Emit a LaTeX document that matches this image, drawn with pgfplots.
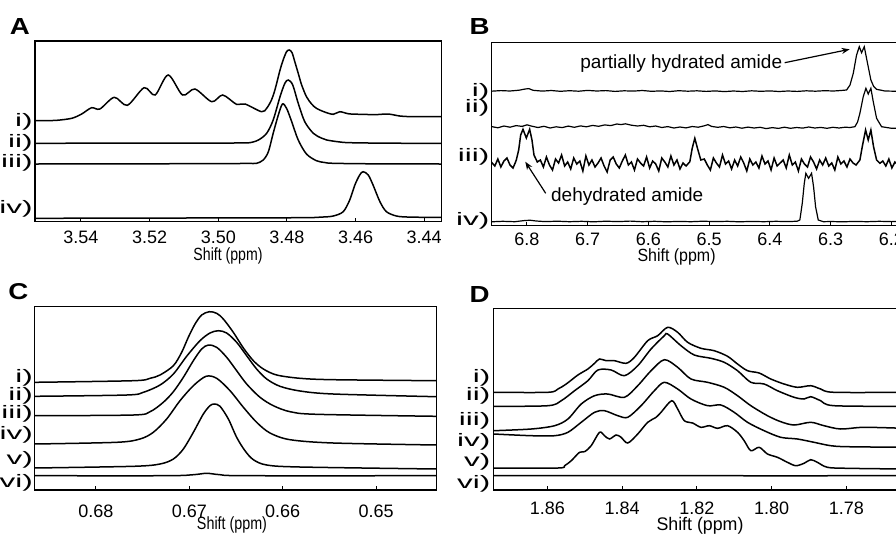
\documentclass[border=0pt]{standalone}
\usepackage{fontspec}
\setmainfont{Liberation Sans}
\usepackage{graphicx}
\usepackage{pgfplots}
\pgfplotsset{compat=1.18}
\usetikzlibrary{arrows.meta}

% trace labels: glyphs widened as in the original figure
\newcommand{\tl}[1]{\scalebox{1.75}[1]{#1}}

\pgfplotsset{
  nmr/.style={
    scale only axis, anchor=south west,
    x dir=reverse, y dir=reverse,
    axis line style={line width=0.6pt},
    ytick=\empty, xtick pos=left, xticklabel pos=left,
    tick align=inside, major tick length=2pt,
    tick style={black, line width=0.5pt},
    xticklabel style={font=\fontsize{9}{10}\selectfont},
    clip mode=individual,
  },
  trace/.style={black, line width=0.75pt, no markers, smooth},
  noisy/.style={black, line width=0.6pt, no markers, sharp plot},
}

\begin{document}
\begin{tikzpicture}[lab/.style={anchor=east, inner sep=0pt, font=\fontsize{9}{10}\selectfont}]

% ---------- A
\begin{axis}[nmr, at={(17.5pt,158.25pt)}, width=203.35pt, height=90.25pt,
  xmin=3.4349, xmax=3.5534, ymin=41, ymax=221.5,
  xtick={3.54,3.52,3.50,3.48,3.46,3.44},
  xticklabels={3.54,3.52,3.50,3.48,3.46,3.44},
  xticklabel style={yshift=-1.25pt}]
\addplot[trace] coordinates {(3.5534,120.7)(3.5500,120.6)(3.5470,120.3)(3.5427,118.3)(3.5398,114)(3.5369,107.7)(3.5345,109)(3.5303,97.3)(3.5265,105.3)(3.5216,87.7)(3.5184,95)(3.5146,75)(3.5104,95)(3.5068,89)(3.5019,101.7)(3.4987,95)(3.4947,104.3)(3.4922,104)(3.4874,111.7)(3.4859,108.3)(3.4845,100)(3.4835,90)(3.4820,70)(3.4811,60)(3.4801,51.7)(3.4793,50)(3.4785,52.7)(3.4777,61.7)(3.4767,73.3)(3.4757,85)(3.4743,96.7)(3.4728,104)(3.4714,108.3)(3.4690,112)(3.4665,114.3)(3.4646,111.7)(3.4620,113.8)(3.4587,114.3)(3.4540,114.6)(3.4505,114)(3.4471,116)(3.4432,116.7)(3.4349,116.7)};
\addplot[trace] coordinates {(3.5534,143.3)(3.5200,143.1)(3.4960,143)(3.4930,142.9)(3.4908,142.7)(3.4883,140)(3.4859,133.3)(3.4840,120)(3.4820,96.7)(3.4806,83.3)(3.4796,80)(3.4783,85)(3.4767,103.3)(3.4748,121.7)(3.4723,133.3)(3.4700,138)(3.4684,140)(3.4650,141.8)(3.4616,142.7)(3.4500,143.2)(3.4349,143.3)};
\addplot[trace] coordinates {(3.5534,164)(3.5200,163.8)(3.4940,163.5)(3.4910,163.4)(3.4888,163.3)(3.4869,160)(3.4854,151.7)(3.4840,133.3)(3.4825,115)(3.4813,104)(3.4801,108.3)(3.4786,121.7)(3.4767,140)(3.4743,154)(3.4714,160.7)(3.4690,162.5)(3.4665,163.3)(3.4550,163.8)(3.4349,164)};
\addplot[trace] coordinates {(3.5534,218.3)(3.5100,218)(3.4762,217.7)(3.4700,217.1)(3.4665,216)(3.4636,211.7)(3.4617,200)(3.4602,185)(3.4588,175)(3.4578,171.7)(3.4563,175)(3.4549,185)(3.4529,201.7)(3.4510,211.7)(3.4481,216)(3.4450,217)(3.4400,217.3)(3.4349,217.3)};
\end{axis}

% ---------- B
\begin{axis}[nmr, at={(245.65pt,156.25pt)}, width=205pt, height=91.4pt,
  xmin=6.1835, xmax=6.8588, ymin=42.7, ymax=225.5,
  xtick={6.8,6.7,6.6,6.5,6.4,6.3,6.2},
  xticklabels={6.8,6.7,6.6,6.5,6.4,6.3,6.2}]
\addplot[noisy] coordinates {(6.8588,91.2)(6.843,90.6)(6.828,91.0)(6.813,90.2)(6.803,89.0)(6.797,88.6)(6.790,90.3)(6.775,91.1)(6.760,90.5)(6.745,91.3)(6.730,90.7)(6.715,91.2)(6.700,90.4)(6.685,91.0)(6.670,90.6)(6.655,91.4)(6.640,90.8)(6.625,91.1)(6.610,90.5)(6.595,91.3)(6.580,90.9)(6.565,91.5)(6.550,90.7)(6.535,91.2)(6.520,90.8)(6.505,91.4)(6.490,90.9)(6.475,91.6)(6.460,91.0)(6.445,91.5)(6.430,90.8)(6.415,91.3)(6.400,90.9)(6.385,91.5)(6.370,91.0)(6.355,91.4)(6.340,90.8)(6.325,91.2)(6.310,90.7)(6.295,91.0)(6.283,90.5)(6.2736,90)(6.2680,85)(6.2626,73.3)(6.2572,55)(6.2527,46.7)(6.2489,52.7)(6.2445,46.7)(6.2402,60)(6.2336,80)(6.2290,86.5)(6.2242,89.3)(6.2105,91)(6.195,91.2)(6.1835,91)};
\addplot[noisy] coordinates {(6.8588,126.5)(6.848,127.8)(6.838,126.0)(6.828,127.2)(6.818,125.6)(6.808,126.4)(6.800,124.8)(6.792,126.2)(6.782,127.5)(6.772,126.3)(6.762,128.0)(6.752,126.8)(6.742,127.6)(6.732,126.1)(6.722,127.3)(6.712,125.9)(6.702,126.8)(6.692,125.4)(6.682,126.3)(6.672,124.9)(6.662,125.6)(6.652,124.0)(6.645,124.6)(6.638,123.8)(6.628,125.2)(6.618,126.0)(6.608,125.3)(6.598,126.8)(6.588,126.0)(6.578,127.5)(6.568,126.6)(6.558,128.0)(6.548,127.0)(6.538,127.9)(6.528,126.5)(6.518,127.2)(6.508,125.8)(6.502,124.6)(6.496,126.4)(6.486,127.3)(6.476,126.5)(6.466,127.8)(6.456,127.0)(6.446,128.2)(6.436,127.1)(6.426,128.0)(6.416,127.3)(6.406,128.6)(6.396,127.6)(6.386,128.4)(6.376,127.2)(6.366,128.3)(6.356,127.5)(6.346,128.1)(6.336,127.0)(6.326,128.0)(6.316,127.4)(6.306,128.3)(6.296,127.3)(6.286,128.0)(6.276,127.2)(6.268,127.5)(6.260,126.7)(6.2555,122)(6.2517,113.3)(6.2462,96.7)(6.2418,88.3)(6.2380,94)(6.2336,88.3)(6.2297,101.7)(6.2242,118.3)(6.2160,126.7)(6.1995,128.3)(6.1835,128)};
\addplot[noisy, line width=0.75pt] coordinates {(6.8588,162)(6.853,166)(6.848,159)(6.843,167)(6.838,161)(6.833,158)(6.828,165)(6.823,168)(6.8195,163)
(6.8176,160)(6.8137,150)(6.8104,135)(6.8066,129.3)(6.8011,138)(6.7956,129.3)(6.7918,140)(6.7885,155)(6.783,162)
(6.778,160)(6.773,167)(6.768,157)(6.763,165)(6.758,170)(6.753,159)(6.748,163)(6.743,155)(6.738,166)(6.733,162)(6.728,169)(6.723,158)(6.718,164)(6.713,161)(6.708,171)(6.703,156)(6.698,165)(6.693,160)(6.688,167)(6.683,163)(6.678,158)(6.673,166)(6.668,172)(6.663,160)(6.658,157)(6.653,164)(6.648,168)(6.643,161)(6.638,155)(6.633,165)(6.628,162)(6.623,170)(6.618,159)(6.613,163)(6.608,166)(6.603,157)(6.598,168)(6.593,161)(6.588,164)(6.583,171)(6.578,158)(6.573,162)(6.568,167)(6.563,156)(6.558,165)(6.553,160)(6.548,169)(6.543,163)(6.538,166)
(6.5318,161.7)(6.5279,148.3)(6.5236,138.3)(6.5192,148.3)(6.5137,160)
(6.508,159)(6.503,165)(6.498,170)(6.493,158)(6.488,163)(6.483,167)(6.478,155)(6.473,164)(6.468,161)(6.463,169)(6.458,160)(6.453,166)(6.448,157)(6.443,163)(6.438,171)(6.433,159)(6.428,165)(6.423,162)(6.418,168)(6.413,156)(6.408,164)(6.403,161)(6.398,170)(6.393,158)(6.388,166)(6.383,163)(6.378,160)(6.373,168)(6.368,155)(6.363,165)(6.358,162)(6.353,171)(6.348,159)(6.343,164)(6.338,167)(6.333,157)(6.328,162)(6.323,169)(6.318,160)(6.313,165)(6.308,158)(6.303,166)(6.298,163)(6.293,170)(6.288,157)(6.283,164)(6.278,161)(6.273,167)(6.268,159)(6.263,163)(6.258,165)
(6.2517,160)(6.2478,146.7)(6.2423,130)(6.238,140)(6.2336,130)(6.2292,146.7)(6.2242,160)(6.2188,163.3)
(6.214,161)(6.209,166)(6.204,159)(6.199,168)(6.194,162)(6.189,165)(6.1835,163)};
\addplot[noisy] coordinates {(6.8588,221.8)(6.84,221.3)(6.82,221.7)(6.805,220.6)(6.795,220.2)(6.785,221.0)(6.77,221.6)(6.75,221.2)(6.73,221.7)(6.71,221.3)(6.69,221.8)(6.67,221.2)(6.65,221.6)(6.63,221.1)(6.61,221.7)(6.59,221.3)(6.57,221.8)(6.55,221.4)(6.53,221.7)(6.51,221.2)(6.49,221.6)(6.47,221.3)(6.45,221.8)(6.43,221.4)(6.41,221.7)(6.39,221.3)(6.37,221.6)(6.355,221.2)(6.3506,220)(6.3466,203.3)(6.3433,183.3)(6.3407,173.3)(6.3362,178.3)(6.3313,173.3)(6.328,186.7)(6.3247,206.7)(6.3203,220)(6.312,221.7)(6.30,221.5)(6.28,221.8)(6.26,221.4)(6.24,221.7)(6.22,221.3)(6.20,221.6)(6.1835,221.5)};
\node[font=\fontsize{9.5}{11}\selectfont] at (axis cs:6.5459,64) {partially hydrated amide};
\draw[-{Stealth[length=4pt,width=3pt]}, line width=0.6pt] (axis cs:6.3756,62.7) -- (axis cs:6.2686,49.3);
\node[font=\fontsize{9.5}{11}\selectfont] at (axis cs:6.635,196.7) {dehydrated amide};
\draw[-{Stealth[length=4pt,width=3pt]}, line width=0.6pt] (axis cs:6.7692,193.3) -- (axis cs:6.8028,161.7);
\end{axis}

% ---------- C
\begin{axis}[nmr, at={(17.15pt,24pt)}, width=201.2pt, height=91.65pt,
  xmin=0.6435, xmax=0.68661, ymin=306.7, ymax=490,
  xtick={0.68,0.67,0.66,0.65},
  xticklabels={0.68,0.67,0.66,0.65},
  xticklabel style={yshift=-4pt}]
\addplot[trace] coordinates {(0.68661,382.3)(0.676,380.7)(0.67421,378.3)(0.67314,375)(0.67171,365.7)(0.67082,352.3)(0.67011,337.3)(0.66939,324)(0.66868,315)(0.66786,311.7)(0.66707,313.3)(0.66636,319)(0.66529,332.3)(0.66421,348)(0.66314,360.7)(0.66207,369)(0.66064,375)(0.65814,378.3)(0.65457,379.7)(0.6435,380.7)};
\addplot[trace] coordinates {(0.68661,396.3)(0.67671,395)(0.67493,392.3)(0.67314,385)(0.67171,374)(0.67029,356.3)(0.66886,340.7)(0.66779,333)(0.66689,330.7)(0.666,333)(0.66493,342.3)(0.66386,355.7)(0.66279,369)(0.66171,379)(0.66029,386.3)(0.65814,391)(0.65457,394)(0.6435,396.7)};
\addplot[trace] coordinates {(0.68661,415.7)(0.676,415)(0.67421,411.7)(0.67279,402.3)(0.67171,391.7)(0.67064,377.3)(0.66957,360.7)(0.66868,349)(0.66796,345)(0.66707,347.3)(0.666,357.3)(0.66493,370.7)(0.66386,384)(0.66243,397.3)(0.661,405.7)(0.65921,411.7)(0.65636,414.3)(0.6435,416.3)};
\addplot[trace] coordinates {(0.68661,444)(0.67779,442.3)(0.67529,439)(0.67386,432.3)(0.67243,419)(0.671,400.7)(0.66957,385.7)(0.66821,376.3)(0.66707,378.3)(0.66564,390.7)(0.66421,407.3)(0.66279,422.3)(0.66136,433)(0.65921,439.7)(0.65457,443)(0.6435,445)};
\addplot[trace] coordinates {(0.68661,468)(0.676,466.3)(0.67314,464)(0.67171,459)(0.67064,449)(0.66957,432.3)(0.6685,414)(0.66779,405.7)(0.66732,404)(0.66671,406.3)(0.66582,419)(0.66493,437.3)(0.66404,450.7)(0.66314,459.7)(0.66171,465)(0.65814,467)(0.6435,469)};
\addplot[trace] coordinates {(0.68661,475.7)(0.67243,475.7)(0.66957,474.7)(0.66814,473.3)(0.66671,474.7)(0.66386,475.7)(0.6435,475.7)};
\end{axis}

% ---------- D
\begin{axis}[nmr, at={(246.85pt,24pt)}, width=205pt, height=90.85pt,
  xmin=1.76464, xmax=1.87434, ymin=308.3, ymax=490,
  xtick={1.86,1.84,1.82,1.80,1.78},
  xticklabels={1.86,1.84,1.82,1.80,1.78},
  xticklabel style={yshift=-2.3pt}]
\addplot[trace] coordinates {(1.87434,392.3)(1.85982,392.3)(1.85715,389)(1.85493,384)(1.85181,375)(1.84914,369)(1.84736,363.3)(1.84603,359)(1.84425,360.7)(1.84203,360.7)(1.83891,363.3)(1.83669,357.3)(1.83313,340.7)(1.83046,335.7)(1.82779,327.3)(1.82512,332.3)(1.82245,342.3)(1.81889,348.3)(1.81533,350.7)(1.81177,356.3)(1.8091,364)(1.80643,370.7)(1.80331,373)(1.8002,379)(1.79664,384)(1.79308,387.3)(1.78952,385.7)(1.78685,389)(1.78329,392.3)(1.76464,392.3)};
\addplot[trace] coordinates {(1.87434,406.3)(1.85982,405.7)(1.85626,400.7)(1.8527,390.7)(1.84914,380.7)(1.84647,370)(1.84291,370)(1.83936,375.7)(1.8358,365.7)(1.83224,349)(1.82868,335.7)(1.82779,334)(1.82423,345.7)(1.82067,355)(1.81622,358.3)(1.81266,362.3)(1.8091,370.7)(1.80554,382.3)(1.80198,384)(1.79842,390.7)(1.79397,397.3)(1.7913,399)(1.78952,396.7)(1.78685,400.7)(1.78329,405.7)(1.76464,406.3)};
\addplot[trace] coordinates {(1.87434,430.7)(1.86427,429)(1.85804,425.7)(1.85448,419)(1.85092,404)(1.84736,395.7)(1.84381,394)(1.83936,397.3)(1.8358,385.7)(1.83224,370.7)(1.82868,359.7)(1.82512,367.3)(1.82156,379)(1.81711,382.3)(1.81266,387.3)(1.8091,395.7)(1.80554,405.7)(1.80109,415.7)(1.79753,421.7)(1.79397,425)(1.78952,422.3)(1.78596,425.7)(1.78151,429)(1.77528,427.3)(1.76464,428.3)};
\addplot[trace] coordinates {(1.87434,434)(1.86427,435.7)(1.85804,435.7)(1.85448,432.3)(1.85092,422.3)(1.84736,412.3)(1.8447,410.7)(1.84113,415.7)(1.83847,417.3)(1.83491,405.7)(1.83135,390.7)(1.82868,382.3)(1.82512,389)(1.82156,399)(1.81711,405.7)(1.81355,405)(1.80999,412.3)(1.80643,422.3)(1.80198,430.7)(1.79753,437.3)(1.79308,439)(1.78863,442.3)(1.78418,445.7)(1.77973,446.7)(1.76464,447.3)};
\addplot[trace] coordinates {(1.87434,468)(1.85715,468)(1.85537,465.7)(1.85359,460.7)(1.85137,452.3)(1.85003,451.7)(1.84825,445.7)(1.84603,432.3)(1.8447,435.7)(1.84336,439)(1.84158,435)(1.84025,437.3)(1.83847,443)(1.8358,434)(1.83313,422.3)(1.8309,417.3)(1.82957,412.3)(1.82672,400.7)(1.82512,409)(1.82334,420.7)(1.82111,423)(1.81889,427.3)(1.81666,425.7)(1.81444,428.3)(1.81177,425.7)(1.8091,432.3)(1.80732,440.7)(1.80554,450.7)(1.80331,447.3)(1.80109,454)(1.79842,457.3)(1.79575,462.3)(1.79353,465.7)(1.7913,463.3)(1.78952,459.7)(1.78774,462.3)(1.78507,467.3)(1.77973,468.3)(1.76464,469)};
\addplot[trace] coordinates {(1.87434,475.7)(1.83,475.5)(1.80,475.8)(1.76464,475.6)};
\end{axis}

% trace labels
\node[lab] at (16.5pt,208pt) {\tl{i)}};
\node[lab] at (16.5pt,197.5pt) {\tl{ii)}};
\node[lab] at (16.5pt,187.5pt) {\tl{iii)}};
\node[lab] at (16.5pt,164.5pt) {\tl{iv)}};

\node[lab] at (244.85pt,223pt) {\tl{i)}};
\node[lab] at (244.85pt,215pt) {\tl{ii)}};
\node[lab] at (244.85pt,190.5pt) {\tl{iii)}};
\node[lab] at (244.85pt,158.65pt) {\tl{iv)}};

\node[lab] at (16.65pt,80.2pt) {\tl{i)}};
\node[lab] at (16.65pt,71.3pt) {\tl{ii)}};
\node[lab] at (16.65pt,62.2pt) {\tl{iii)}};
\node[lab] at (16.65pt,51.5pt) {\tl{iv)}};
\node[lab] at (16.65pt,39pt) {\tl{v)}};
\node[lab] at (16.65pt,27.5pt) {\tl{vi)}};

\node[lab] at (245.35pt,79.9pt) {\tl{i)}};
\node[lab] at (245.35pt,70.9pt) {\tl{ii)}};
\node[lab] at (245.35pt,58.65pt) {\tl{iii)}};
\node[lab] at (245.35pt,47.85pt) {\tl{iv)}};
\node[lab] at (245.35pt,37.85pt) {\tl{v)}};
\node[lab] at (245.35pt,27pt) {\tl{vi)}};

% axis titles
\node[inner sep=0pt] at (114pt,141pt) {\resizebox{34.5pt}{6.4pt}{Shift (ppm)}};
\node[inner sep=0pt] at (338.3pt,140.3pt) {\resizebox{39pt}{6.4pt}{Shift (ppm)}};
\node[inner sep=0pt] at (116pt,6.3pt) {\resizebox{35pt}{6.4pt}{Shift (ppm)}};
\node[inner sep=0pt] at (350pt,6pt) {\resizebox{43.5pt}{6.6pt}{Shift (ppm)}};

% panel letters
\node[inner sep=0pt] at (10pt,255.65pt) {\resizebox{10pt}{8pt}{\bfseries A}};
\node[inner sep=0pt] at (239.8pt,255.65pt) {\resizebox{10pt}{8pt}{\bfseries B}};
\node[inner sep=0pt] at (9.2pt,123.25pt) {\resizebox{10pt}{8pt}{\bfseries C}};
\node[inner sep=0pt] at (239.8pt,122pt) {\resizebox{10pt}{8pt}{\bfseries D}};

\pgfresetboundingbox
\useasboundingbox (0,0) rectangle (448pt,269pt);
\end{tikzpicture}
\end{document}
